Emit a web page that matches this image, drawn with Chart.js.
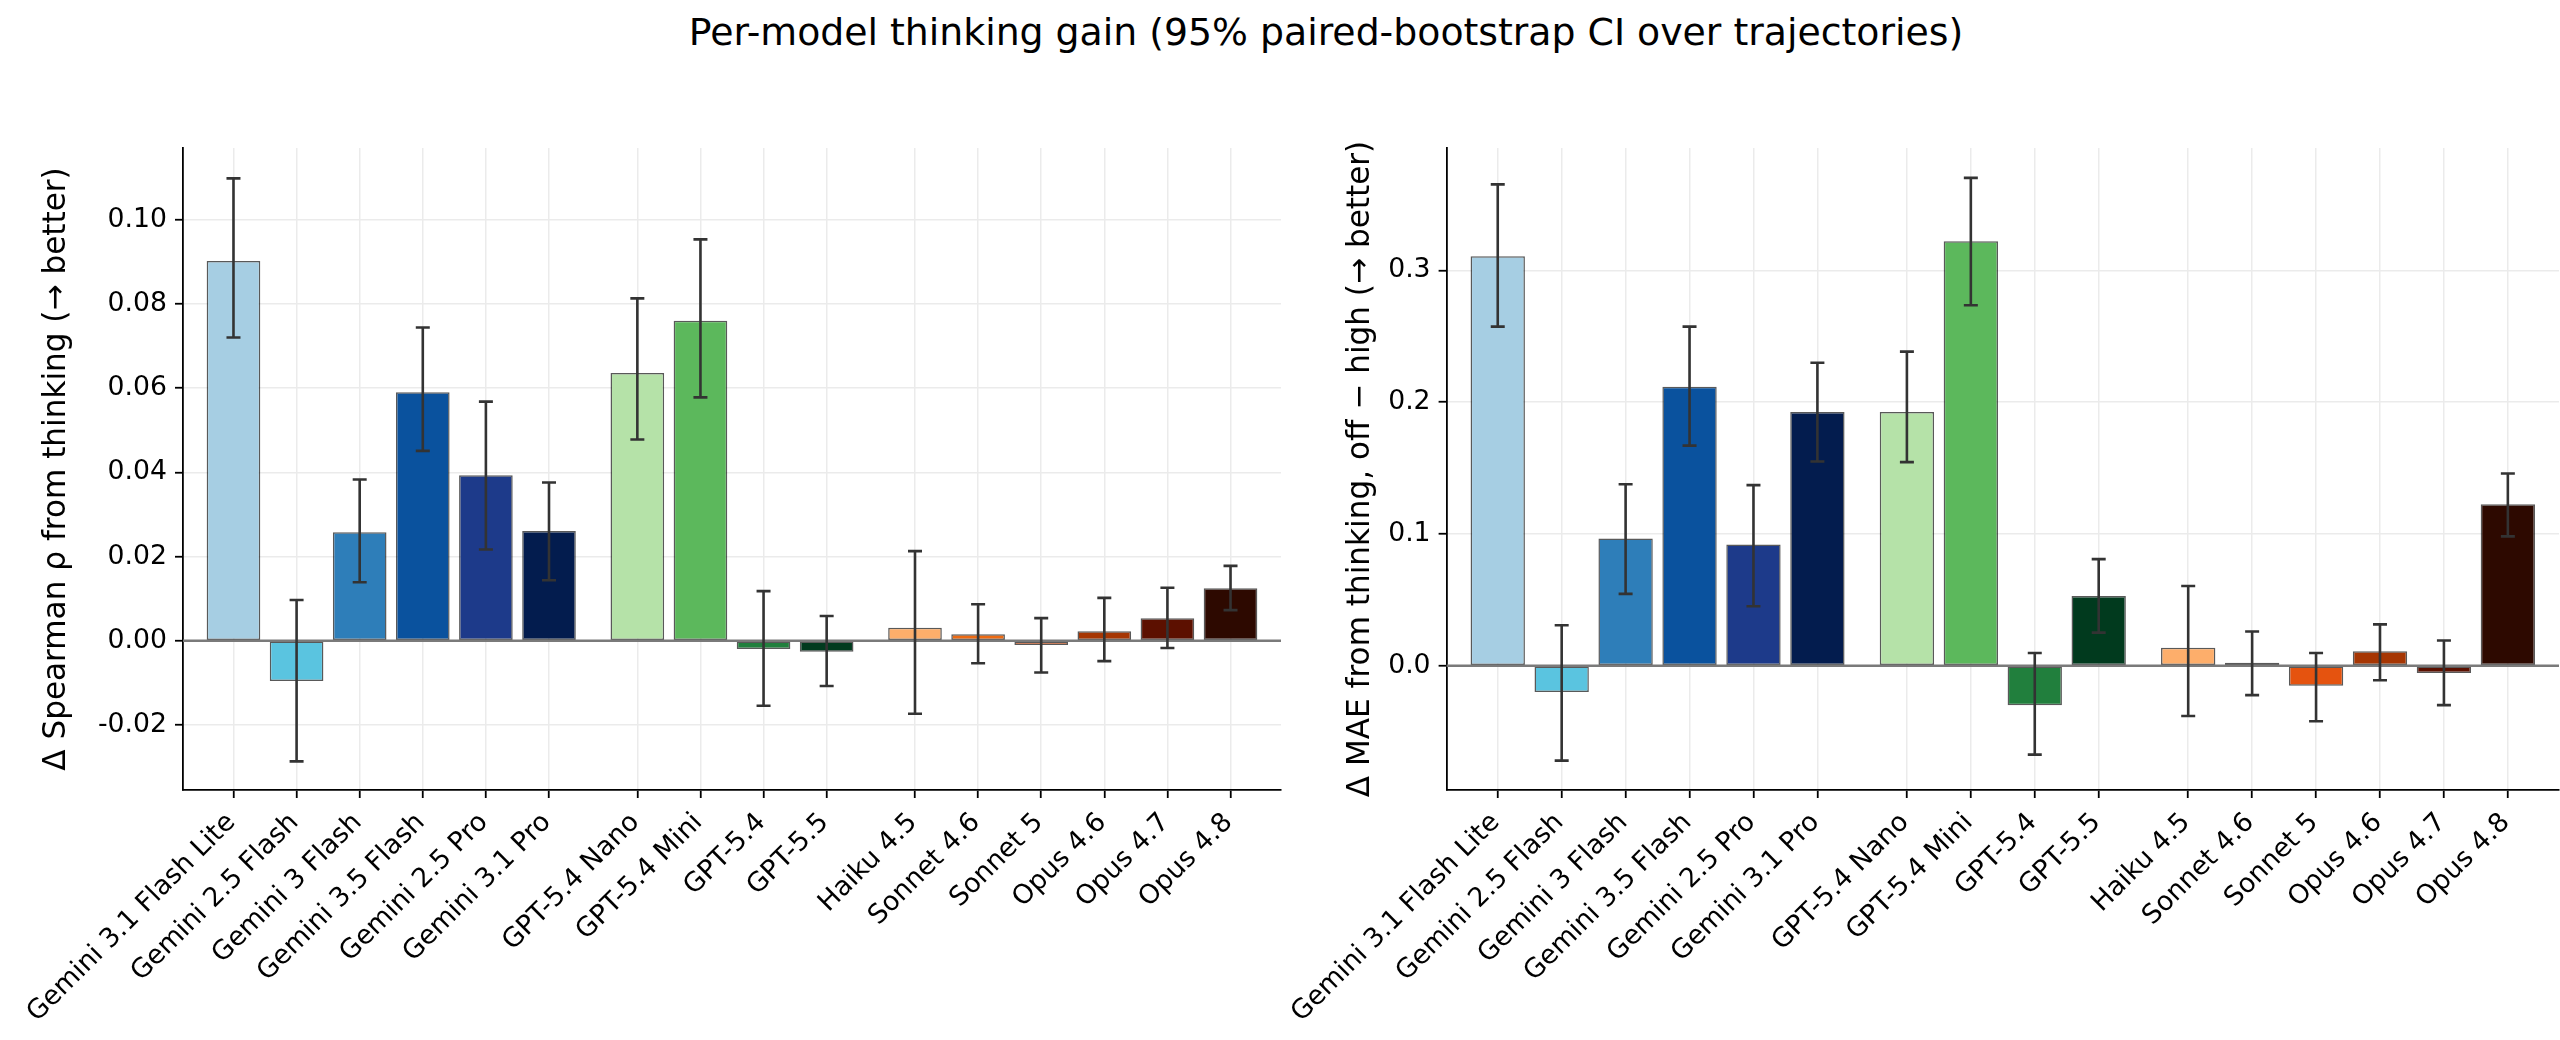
<!DOCTYPE html>
<html>
<head>
<meta charset="utf-8">
<script src="https://cdn.jsdelivr.net/npm/chart.js@4.4.1/dist/chart.umd.min.js"></script>
<style>
  body { margin: 0; background: #fff; width: 2560px; height: 1040px; overflow: hidden; position: relative; font-family: "DejaVu Sans", sans-serif; }
  #title { position: absolute; top: 13px; left: 1326px; transform: translateX(-50%); font-size: 37.8px; line-height: 38px; white-space: nowrap; color: #000; }
  canvas { position: absolute; top: 0; }
  #left { left: 0; }
  #right { left: 1282px; }
</style>
</head>
<body>
<div id="title">Per-model thinking gain (95% paired-bootstrap CI over trajectories)</div>
<canvas id="left" width="1282" height="1040"></canvas>
<canvas id="right" width="1278" height="1040"></canvas>
<script>
// model names, grouped by vendor (0 = Gemini, 1 = GPT, 2 = Claude)
const models = ['Gemini 3.1 Flash Lite', 'Gemini 2.5 Flash', 'Gemini 3 Flash', 'Gemini 3.5 Flash',
    'Gemini 2.5 Pro', 'Gemini 3.1 Pro', 'GPT-5.4 Nano', 'GPT-5.4 Mini', 'GPT-5.4', 'GPT-5.5',
    'Haiku 4.5', 'Sonnet 4.6', 'Sonnet 5', 'Opus 4.6', 'Opus 4.7', 'Opus 4.8'];
const vendorGroup = [0, 0, 0, 0, 0, 0, 1, 1, 1, 1, 2, 2, 2, 2, 2, 2];
const barColors = ['#a6cee3', '#5ac4e0', '#2e7eb9', '#0a529e', '#1d3a8a', '#031c4e',
    '#b5e2a8', '#5cb85c', '#217f3d', '#013a1e',
    '#fdae6b', '#ed6a12', '#e5530f', '#a63603', '#5c1000', '#2d0900'];

// left panel: delta Spearman rho
const spearman   = [0.0902, -0.0095, 0.0258, 0.0590, 0.0393, 0.0261, 0.0636, 0.0760, -0.0019, -0.0026, 0.0031, 0.0016, -0.0010, 0.0023, 0.0054, 0.0125];
const spearmanLo = [0.0720, -0.0286, 0.0139, 0.0451, 0.0217, 0.0144, 0.0478, 0.0578, -0.0154, -0.0107, -0.0173, -0.0053, -0.0075, -0.0048, -0.0017, 0.0073];
const spearmanHi = [0.1098, 0.0097, 0.0383, 0.0744, 0.0568, 0.0376, 0.0813, 0.0953, 0.0118, 0.0059, 0.0213, 0.0087, 0.0054, 0.0102, 0.0126, 0.0178];
const spearmanTicks = [-0.02, 0.00, 0.02, 0.04, 0.06, 0.08, 0.10];

// right panel: delta MAE
const mae   = [0.3106, -0.0199, 0.0966, 0.2116, 0.0920, 0.1926, 0.1926, 0.3220, -0.0300, 0.0530, 0.0138, 0.0024, -0.0152, 0.0111, -0.0055, 0.1226];
const maeLo = [0.2573, -0.0719, 0.0546, 0.1670, 0.0452, 0.1550, 0.1545, 0.2735, -0.0674, 0.0252, -0.0381, -0.0222, -0.0421, -0.0110, -0.0298, 0.0982];
const maeHi = [0.3652, 0.0308, 0.1377, 0.2573, 0.1371, 0.2299, 0.2383, 0.3701, 0.0097, 0.0809, 0.0606, 0.0260, 0.0097, 0.0314, 0.0192, 0.1459];
const maeTicks = [0.0, 0.1, 0.2, 0.3];

const FONT = 'DejaVu Sans';
Chart.defaults.font.family = FONT;
Chart.defaults.color = '#000';

// bar slots, with a small gap between vendors
const xPos = models.map((m, i) => i + 0.4 * vendorGroup[i]);

// zero line + CI whiskers, drawn over the bars
const errorBars = {
    id: 'errorBars',
    afterDatasetsDraw(chart, args, opts) {
        const ctx = chart.ctx, xs = chart.scales.x, ys = chart.scales.y, area = chart.chartArea;
        ctx.save();
        ctx.strokeStyle = '#7a7a7a';
        ctx.lineWidth = 2.5;
        const y0 = ys.getPixelForValue(0);
        ctx.beginPath();
        ctx.moveTo(area.left, y0);
        ctx.lineTo(area.right, y0);
        ctx.stroke();

        ctx.strokeStyle = '#333';
        ctx.lineWidth = 2.6;
        const cap = 7;
        opts.lo.forEach((lo, i) => {
            const x = xs.getPixelForValue(xPos[i]);
            const a = ys.getPixelForValue(lo), b = ys.getPixelForValue(opts.hi[i]);
            ctx.beginPath();
            ctx.moveTo(x, a); ctx.lineTo(x, b);
            ctx.moveTo(x - cap, a); ctx.lineTo(x + cap, a);
            ctx.moveTo(x - cap, b); ctx.lineTo(x + cap, b);
            ctx.stroke();
        });
        ctx.restore();
    }
};

function makeChart(id, values, lo, hi, yMin, yMax, yTicks, digits, yTitle, padLeft, axisWidth) {
    return new Chart(document.getElementById(id), {
        type: 'bar',
        data: {
            datasets: [{
                data: values.map((v, i) => ({ x: xPos[i], y: v })),
                backgroundColor: barColors,
                borderColor: 'rgba(0,0,0,0.65)',
                borderWidth: 1.5,
                borderSkipped: false,
                barPercentage: 0.85,
                categoryPercentage: 1.0
            }]
        },
        options: {
            responsive: false,
            animation: false,
            devicePixelRatio: 1,
            layout: { padding: { left: padLeft, top: 148, right: 1, bottom: 0 } },
            plugins: {
                legend: { display: false },
                tooltip: { enabled: false },
                errorBars: { lo: lo, hi: hi }
            },
            scales: {
                x: {
                    type: 'linear',
                    min: -0.8,
                    max: 16.6,
                    offset: false,
                    afterBuildTicks: s => { s.ticks = xPos.map(v => ({ value: v })); },
                    afterFit: s => { s.height = 250; s.paddingLeft = 0; s.paddingRight = 0; },
                    ticks: {
                        autoSkip: false,
                        minRotation: 45,
                        maxRotation: 45,
                        padding: 9,
                        labelOffset: -2,
                        color: '#000',
                        font: { family: FONT, size: 26.7 },
                        callback: (v, i) => models[i]
                    },
                    grid: { offset: false, color: '#ebebeb', lineWidth: 1.5, tickColor: '#000', tickLength: 8, tickWidth: 1.8 },
                    border: { color: '#000', width: 1.8 }
                },
                y: {
                    min: yMin,
                    max: yMax,
                    afterBuildTicks: s => { s.ticks = yTicks.map(v => ({ value: v })); },
                    afterFit: s => { s.width = axisWidth; s.paddingTop = 0; s.paddingBottom = 0; },
                    ticks: {
                        padding: 8,
                        color: '#000',
                        font: { family: FONT, size: 26.7 },
                        callback: v => Number(v).toFixed(digits)
                    },
                    grid: { color: '#ebebeb', lineWidth: 1.5, tickColor: '#000', tickLength: 8, tickWidth: 1.8 },
                    border: { color: '#000', width: 1.8 },
                    title: { display: true, text: yTitle, color: '#000', font: { family: FONT, size: 31.1 }, padding: 0 }
                }
            }
        },
        plugins: [errorBars]
    });
}

makeChart('left', spearman, spearmanLo, spearmanHi, -0.0354, 0.117, spearmanTicks, 2,
    'Δ Spearman ρ from thinking (→ better)', 38, 145);
makeChart('right', mae, maeLo, maeHi, -0.0942, 0.3928, maeTicks, 1,
    'Δ MAE from thinking, off − high (→ better)', 60, 104.6);
</script>
</body>
</html>
